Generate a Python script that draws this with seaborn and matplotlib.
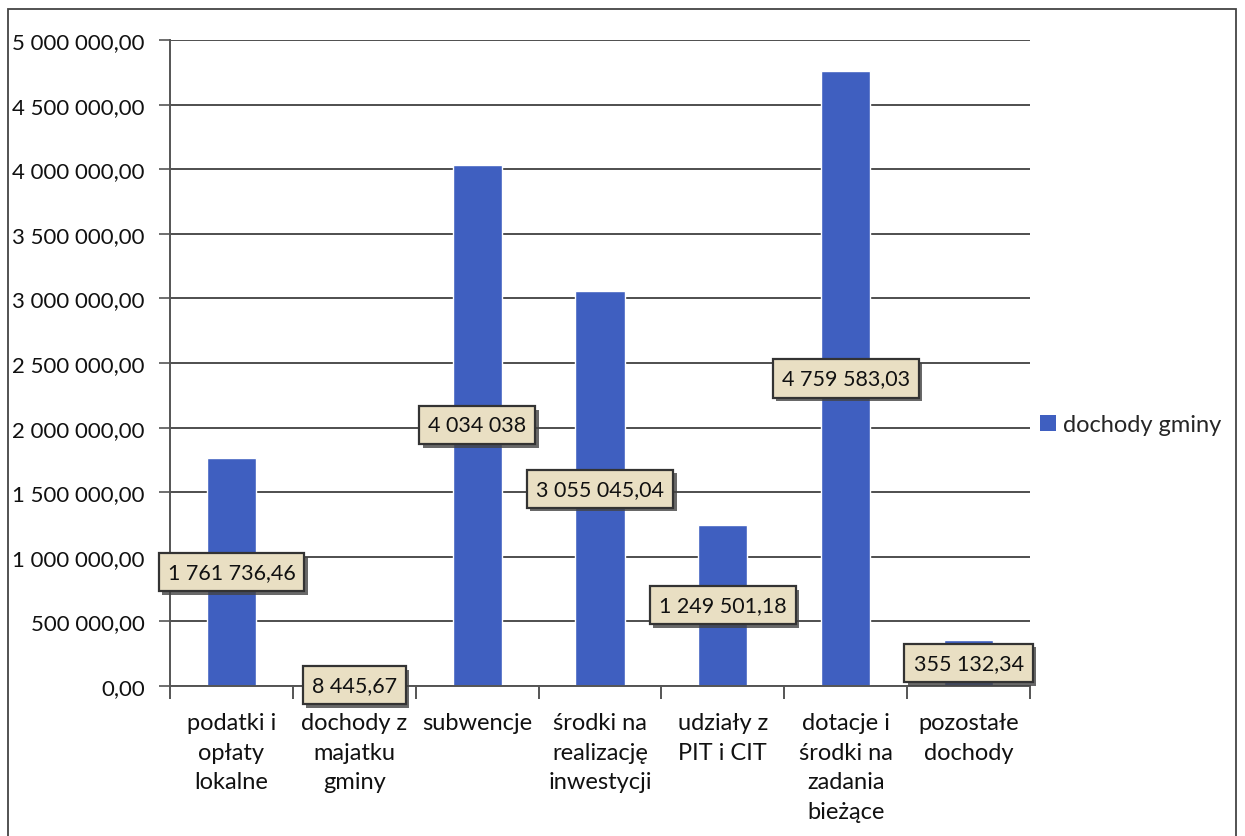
import matplotlib
matplotlib.use("Agg")
import matplotlib.pyplot as plt
import matplotlib.patheffects as pe
from matplotlib.patches import Rectangle
from matplotlib.ticker import FixedLocator, FuncFormatter
import seaborn as sns
import pandas as pd

categories = ["podatki i\nopłaty\nlokalne", "dochody z\nmajatku\ngminy", "subwencje",
              "środki na\nrealizację\ninwestycji", "udziały z\nPIT i CIT",
              "dotacje i\nśrodki na\nzadania\nbieżące", "pozostałe\ndochody"]
values = [1761736.46, 8445.67, 4034038.0, 3055045.04, 1249501.18, 4759583.03, 355132.34]
value_labels = ["1 761 736,46", "8 445,67", "4 034 038", "3 055 045,04",
                "1 249 501,18", "4 759 583,03", "355 132,34"]
series_name = "dochody gminy"
y_ticks = [0, 500000, 1000000, 1500000, 2000000, 2500000, 3000000, 3500000, 4000000, 4500000, 5000000]

sns.set_style("white")
plt.rcParams['font.family'] = ['Lato', 'DejaVu Sans']

fig = plt.figure(figsize=(12.45, 8.37), dpi=100)
W, H = 1245, 837
ax = fig.add_axes([170 / W, 1 - 687 / H, (1030 - 170) / W, (687 - 41) / H])

df = pd.DataFrame({"kat": categories, "val": values, "s": series_name})
bar_color = "#3f5fc0"
sns.barplot(data=df, x="kat", y="val", hue="s", palette=[bar_color], width=0.4,
            ax=ax, legend=False, saturation=1)

ax.set_xlim(-0.5, len(categories) - 0.5)
ax.set_ylim(0, 5000000)
ax.yaxis.set_major_locator(FixedLocator(y_ticks))

def pl_fmt(v, pos=None):
    s = f"{v:,.2f}"
    return s.replace(",", " ").replace(".", ",")

ax.yaxis.set_major_formatter(FuncFormatter(pl_fmt))
ax.grid(axis='y', color='#404040', linewidth=1.3)
ax.set_axisbelow(True)
for sp in ['top', 'right']:
    ax.spines[sp].set_visible(False)
for sp in ['left', 'bottom']:
    ax.spines[sp].set_color('#555555')
    ax.spines[sp].set_linewidth(1.4)

ax.set_xlabel("")
ax.set_ylabel("")
ax.tick_params(axis='y', which='major', direction='out', length=8, width=1.2,
               color='#555555', labelsize=16, pad=10, left=True)
ax.set_xticks(range(len(categories)))
ax.set_xticklabels(categories, fontsize=17, linespacing=1.5, va='top')
ax.tick_params(axis='x', which='major', length=0, pad=19)
ax.set_xticks([i - 0.5 for i in range(len(categories) + 1)], minor=True)
ax.tick_params(axis='x', which='minor', direction='out', length=9, width=1.4,
               color='#555555', bottom=True)
for lbl in ax.get_yticklabels() + ax.get_xticklabels():
    lbl.set_color('#111111')

for i, (v, t) in enumerate(zip(values, value_labels)):
    txt = ax.text(i, v / 2, t, ha='center', va='center', fontsize=15.5, color='#111111',
                  zorder=5,
                  bbox=dict(boxstyle='square,pad=0.42', facecolor='#e9dfc3',
                            edgecolor='#333333', linewidth=1.6))
    txt.get_bbox_patch().set_path_effects([
        pe.SimplePatchShadow(offset=(2.5, -2.5), shadow_rgbFace='#444444', alpha=0.8),
        pe.Normal()])

handle = Rectangle((0, 0), 1, 1, facecolor=bar_color, edgecolor='none')
fig.legend([handle], [series_name], loc='center left',
           bbox_to_anchor=(1019 / W, 1 - 426 / H), frameon=False, fontsize=17,
           handlelength=0.65, handleheight=0.65, handletextpad=0.3)

border = Rectangle((8 / W, -0.01), (1236 - 8) / W, (H - 10) / H + 0.01,
                   transform=fig.transFigure, fill=False, edgecolor='#444444',
                   linewidth=1.3)
fig.add_artist(border)

fig.savefig("out.png", dpi=100)
